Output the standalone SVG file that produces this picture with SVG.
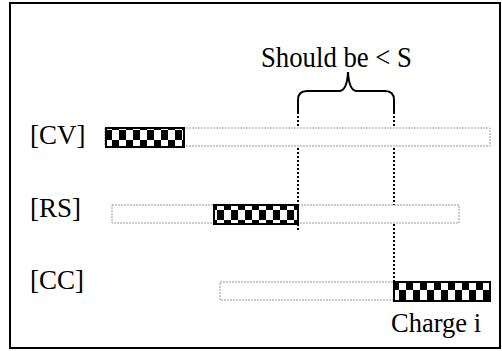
<svg xmlns="http://www.w3.org/2000/svg" width="502" height="351" viewBox="0 0 502 351">
<style>
text{font-family:"Liberation Serif","Times New Roman",serif;fill:#000}
.lbl{font-size:27px}
.track{fill:#fff;stroke:#999;stroke-width:1;stroke-dasharray:2,1}
.chk{fill:url(#checker);stroke:#000;stroke-width:2}
.guide{fill:none;stroke:#000;stroke-width:2;stroke-dasharray:2,2}
.brace{fill:none;stroke:#000;stroke-width:2}
</style>
<defs>
<pattern id="checker" patternUnits="userSpaceOnUse" x="0" y="0" width="14" height="20">
<rect width="14" height="20" fill="#fff"/>
<rect x="0" y="0" width="7" height="10" fill="#000"/>
<rect x="7" y="10" width="7" height="10" fill="#000"/>
</pattern>
</defs>
<rect x="10" y="3" width="490" height="345" fill="#fff" stroke="#000" stroke-width="2"/>
<g id="connectors">
<line class="guide" x1="298" y1="112" x2="298" y2="230"/>
<line class="guide" x1="394" y1="112" x2="394" y2="281"/>
<path class="brace" d="M298,113 V100 Q298,91 307,91 H339 Q347,91 348,72 Q349,91 357,91 H385 Q394,91 394,100 V113"/>
</g>
<g id="note">
<text x="261" y="67" font-size="30" textLength="151" lengthAdjust="spacingAndGlyphs">Should be &lt; S</text>
</g>
<g id="cv">
<text class="lbl" x="30" y="144">[CV]</text>
<rect class="track" x="105" y="128" width="385" height="18"/>
<rect class="chk" x="106" y="128" width="78" height="19"/>
</g>
<g id="rs">
<text class="lbl" x="30" y="217">[RS]</text>
<rect class="track" x="112" y="205" width="347" height="18"/>
<rect class="chk" x="214" y="205" width="84" height="19"/>
</g>
<g id="cc">
<text class="lbl" x="30" y="289">[CC]</text>
<rect class="track" x="220" y="282" width="270" height="18"/>
<rect class="chk" x="394" y="282" width="96" height="19"/>
<text class="lbl" x="391" y="332" textLength="90" lengthAdjust="spacingAndGlyphs">Charge i</text>
</g>
</svg>
